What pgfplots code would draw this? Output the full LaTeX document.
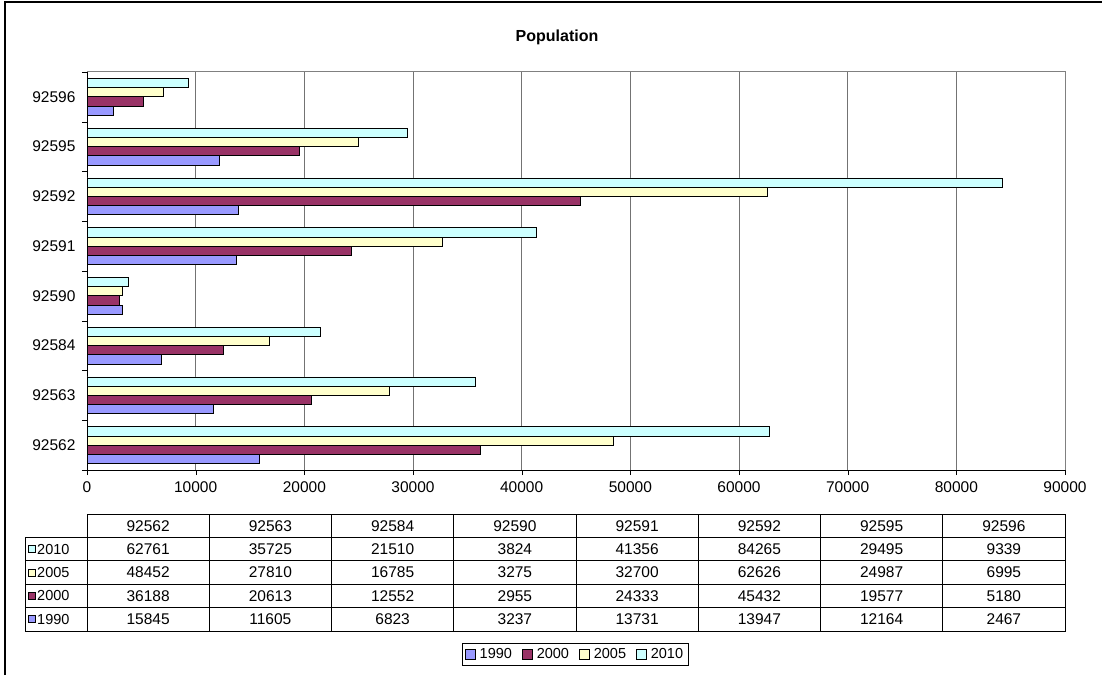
\documentclass[border=0pt]{standalone}
\usepackage{fontspec}
\setmainfont{Liberation Sans}
\usepackage{pgfplots}
\usepackage{pgfplotstable}
\pgfplotsset{compat=1.18}

\definecolor{c1990}{HTML}{9999FF}
\definecolor{c2000}{HTML}{993366}
\definecolor{c2005}{HTML}{FFFFCC}
\definecolor{c2010}{HTML}{CCFFFF}

\newcommand{\lbl}{\fontsize{15.5}{18}\selectfont}
\newcommand{\sml}{\fontsize{14.5}{17}\selectfont}

% population by zip code
\pgfplotstableread{
zip   y1990 y2000 y2005 y2010
92562 15845 36188 48452 62761
92563 11605 20613 27810 35725
92584 6823  12552 16785 21510
92590 3237  2955  3275  3824
92591 13731 24333 32700 41356
92592 13947 45432 62626 84265
92595 12164 19577 24987 29495
92596 2467  5180  6995  9339
}\pop

\begin{document}
\begin{tikzpicture}
\useasboundingbox (0,0) rectangle (1102pt,675pt);
\draw[line width=2pt] (5pt,0) -- (5pt,673pt) -- (1102pt,673pt);
\node[font=\bfseries\fontsize{16}{18}\selectfont] at (557pt,638pt) {Population};

\begin{axis}[
  name=main,
  scale only axis, width=978pt, height=398pt,
  at={(87pt,205pt)}, anchor=south west,
  xbar=0pt, bar width=9.2pt,
  xmin=0, xmax=90000, xtick={0,10000,...,90000},
  ymin=-0.5, ymax=7.5, ytick={0,...,7},
  yticklabels={92562,92563,92584,92590,92591,92592,92595,92596},
  minor ytick={-0.5,0.5,...,7.5},
  axis lines=left, axis line style={-,black},
  xmajorgrids, major grid style={black!55},
  tick align=outside, major tick length=5pt, minor tick length=5pt,
  major y tick style={draw=none}, minor y tick style={black},
  xtick style={black},
  scaled x ticks=false,
  /pgf/number format/1000 sep={},
  /pgf/number format/assume math mode=true,
  tick label style={font=\lbl},
  yticklabel style={xshift=-3pt},
  xticklabel style={yshift=-3pt},
  legend style={at={(0.499,-0.4623)}, anchor=center, legend columns=-1,
    draw=black, font=\sml, inner sep=3pt,
    /tikz/every odd column/.append style={column sep=2pt},
    /tikz/every even column/.append style={column sep=8pt}},
  legend image code/.code={\draw[#1,draw=black] (0pt,-5pt) rectangle (10pt,5pt);},
]
\addplot[fill=c1990, draw=black, line width=0.8pt] table[x=y1990, y expr=\coordindex] {\pop};
\addplot[fill=c2000, draw=black, line width=0.8pt] table[x=y2000, y expr=\coordindex] {\pop};
\addplot[fill=c2005, draw=black, line width=0.8pt] table[x=y2005, y expr=\coordindex] {\pop};
\addplot[fill=c2010, draw=black, line width=0.8pt] table[x=y2010, y expr=\coordindex] {\pop};
\legend{1990,2000,2005,2010}
\end{axis}
\draw[gray, line width=1pt] (main.north west) -- (main.north east) -- (main.south east);

% data table
\begin{axis}[
  scale only axis, width=978pt, height=117pt,
  at={(87pt,44pt)}, anchor=south west,
  xmin=0, xmax=8, ymin=-0.5, ymax=4.5,
  xtick={0,...,8}, ytick={-0.5,0.5,...,4.5},
  xticklabels={}, yticklabels={},
  major tick length=0pt, grid=major,
  major grid style={black, line width=0.8pt},
  axis line style={black, line width=0.8pt},
  clip=false,
  nodes near coords, point meta=explicit symbolic,
  every node near coord/.append style={anchor=center, font=\lbl, black},
]
\addplot[draw=none, mark=none] table[x expr=\coordindex+0.5, y expr=4, meta=zip] {\pop};
\addplot[draw=none, mark=none] table[x expr=\coordindex+0.5, y expr=3, meta=y2010] {\pop};
\addplot[draw=none, mark=none] table[x expr=\coordindex+0.5, y expr=2, meta=y2005] {\pop};
\addplot[draw=none, mark=none] table[x expr=\coordindex+0.5, y expr=1, meta=y2000] {\pop};
\addplot[draw=none, mark=none] table[x expr=\coordindex+0.5, y expr=0, meta=y1990] {\pop};
\end{axis}

% row label column
\draw[black, line width=0.8pt] (25pt,44pt) rectangle (87pt,137.6pt);
\foreach \yy in {67.4,90.8,114.2} \draw[black, line width=0.8pt] (25pt,\yy pt) -- (87pt,\yy pt);
\foreach \yy/\c/\t in {125.9/c2010/2010,102.5/c2005/2005,79.1/c2000/2000,55.7/c1990/1990}{
  \draw[fill=\c, draw=black, line width=0.7pt] (28pt,\yy pt-3.5pt) rectangle (35pt,\yy pt+3.5pt);
  \node[anchor=west, font=\sml, inner sep=0pt] at (37pt,\yy pt) {\t};
}
\end{tikzpicture}
\end{document}
